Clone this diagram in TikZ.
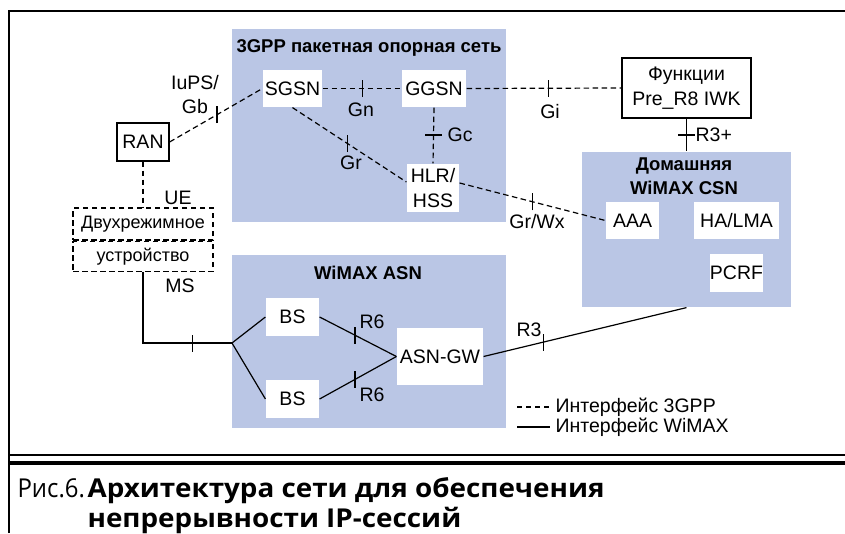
\documentclass[tikz,border=0pt]{standalone}
\usepackage{fontspec}
\setmainfont{Liberation Sans}
\newfontfamily\capfont[FakeStretch=0.92]{Open Sans}
\newfontfamily\capbold[FakeStretch=1.07]{Open Sans}
\definecolor{zone}{RGB}{186,198,229}
\newcommand\vtick[1]{\draw ([yshift=-8.5pt]#1) -- ([yshift=8.5pt]#1);}
\newcommand\htick[1]{\draw ([xshift=-8.5pt]#1) -- ([xshift=8.5pt]#1);}
\begin{document}
\begin{tikzpicture}[x=1pt,y=-1pt,line width=1.2pt,
  every node/.style={font=\fontsize{19.5}{25}\selectfont,inner sep=0pt},
  zonebox/.style={fill=zone,draw=none},
  wbox/.style={fill=white,draw=none,align=center},
  framed/.style={fill=white,draw=black,line width=1.2pt,align=center},
  dmbox/.style={draw=black,dash pattern=on 5.5pt off 3.5pt,align=center,font=\fontsize{18}{22}\selectfont},
  iface3/.style={dash pattern=on 5.5pt off 3.5pt},
  ztitle/.style={font=\fontsize{18.5}{24}\selectfont\bfseries,align=center},
  lbl/.style={font=\fontsize{19.5}{24}\selectfont},
  captext/.style={anchor=base west,font=\capfont\fontsize{26}{30}\selectfont},
  capbf/.style={anchor=base west,font=\capbold\fontsize{26}{30}\selectfont\bfseries}]
\useasboundingbox (0,0) rectangle (845,533);

% page frame and caption rules
\draw (9,533) -- (9,11) -- (845,11);
\draw (9,455) -- (845,455);
\draw[line width=4pt] (9,463) -- (845,463);

% zones
\node[zonebox,minimum width=274,minimum height=193] (core) at (369,125.5) {};
\node[zonebox,minimum width=274,minimum height=173] (asn) at (369,341.5) {};
\node[zonebox,minimum width=209,minimum height=155] (csn) at (686.5,229.5) {};
\node[ztitle] (coret) at (369,48) {3GPP пакетная опорная сеть};
\node[ztitle] (asnt) at (368,273) {WiMAX ASN};
\node[ztitle] (csnt) at (684,176.5) {Домашняя\\WiMAX CSN};

% network elements
\node[wbox,minimum width=59,minimum height=37] (sgsn) at (292.5,88.5) {SGSN};
\node[wbox,minimum width=64,minimum height=37] (ggsn) at (434,88.5) {GGSN};
\node[wbox,minimum width=52,minimum height=48] (hlr) at (433,188) {HLR/\\HSS};
\node[wbox,minimum width=53,minimum height=37] (aaa) at (632.5,220.5) {AAA};
\node[wbox,minimum width=85,minimum height=37] (ha) at (736.5,220.5) {HA/LMA};
\node[wbox,minimum width=53,minimum height=38] (pcrf) at (736.5,273) {PCRF};
\node[framed,minimum width=129,minimum height=60] (iwk) at (686.5,88) {Функции\\Pre\_R8 IWK};
\node[framed,minimum width=52,minimum height=38] (ran) at (143,142) {RAN};
\node[wbox,minimum width=53,minimum height=38] (bs1) at (292.5,317) {BS};
\node[wbox,minimum width=53,minimum height=38] (bs2) at (292.5,399) {BS};
\node[wbox,minimum width=86,minimum height=57] (gw) at (440,356.5) {ASN-GW};
\node[dmbox,minimum width=140,minimum height=32] (dm1) at (143,224) {Двухрежимное};
\node[dmbox,minimum width=140,minimum height=30,anchor=north] (dm2) at (dm1.south) {устройство};

% 3GPP interfaces
\draw[iface3] (ran.east) -- coordinate[pos=0.51] (tIu) (sgsn.west);
\draw[iface3] (sgsn.east) -- coordinate[pos=0.51] (tGn) (ggsn.west);
\draw[iface3] (ggsn.east) -- coordinate[pos=0.53] (tGi) (iwk.west);
\draw[iface3] (ggsn.south) -- coordinate[pos=0.49] (tGc) (hlr.north);
\draw[iface3] (sgsn.south) -- coordinate[pos=0.485] (tGr) ([yshift=6pt]hlr.west);
\draw[iface3] ([yshift=5pt]hlr.east) -- coordinate[pos=0.5] (tGw) (aaa.west);
\draw[iface3] (ran.south) -- (dm1.north);

% WiMAX interfaces
\coordinate (jn) at (232,343);
\draw (iwk.south) -- coordinate[pos=0.5] (tR3p) (csn.north);
\draw (dm2.south) |- coordinate[pos=0.78] (tMS) (jn);
\draw (jn) -- (bs1.west);
\draw (jn) -- (bs2.west);
\draw (bs1.east) -- coordinate[pos=0.46] (tR6a) (gw.west);
\draw (bs2.east) -- coordinate[pos=0.46] (tR6b) (gw.west);
\draw (gw.east) -- coordinate[pos=0.295] (tR3) (csn.south);

% reference point ticks
\vtick{tIu}\vtick{tGn}\vtick{tGi}\vtick{tGr}\vtick{tGw}
\htick{tGc}\htick{tR3p}
\vtick{tMS}\vtick{tR6a}\vtick{tR6b}\vtick{tR3}

% reference point labels
\node[lbl,align=center] (lIu) at (195,94.5) {IuPS/\\Gb};
\node[lbl] (lGn) at (361,110) {Gn};
\node[lbl] (lGi) at (550,112) {Gi};
\node[lbl,anchor=west] (lGc) at (447,135) {Gc};
\node[lbl] (lGr) at (351,163) {Gr};
\node[lbl] (lGw) at (537,222) {Gr/Wx};
\node[lbl,anchor=west] (lR3p) at (695,135) {R3+};
\node[lbl] (lUE) at (178,198) {UE};
\node[lbl] (lMS) at (180,286) {MS};
\node[lbl] (lR6a) at (372,322) {R6};
\node[lbl] (lR6b) at (372,395) {R6};
\node[lbl] (lR3) at (529,330) {R3};

% legend
\node[lbl,anchor=west] (lg1) at (555,407) {Интерфейс 3GPP};
\node[lbl,anchor=west] (lg2) at (555,427) {Интерфейс WiMAX};
\coordinate (lg1a) at (517,407);
\coordinate (lg2a) at (517,427);
\draw[dash pattern=on 5pt off 4pt] (lg1a) -- ([xshift=-5pt]lg1.west);
\draw (lg2a) -- ([xshift=-5pt]lg2.west);

% caption
\node[captext] (capn) at (17,497) {Рис.6.};
\node[capbf] (cap1) at (87,497) {Архитектура сети для обеспечения};
\node[capbf] (cap2) at (87,527) {непрерывности IP-сессий};
\end{tikzpicture}
\end{document}
